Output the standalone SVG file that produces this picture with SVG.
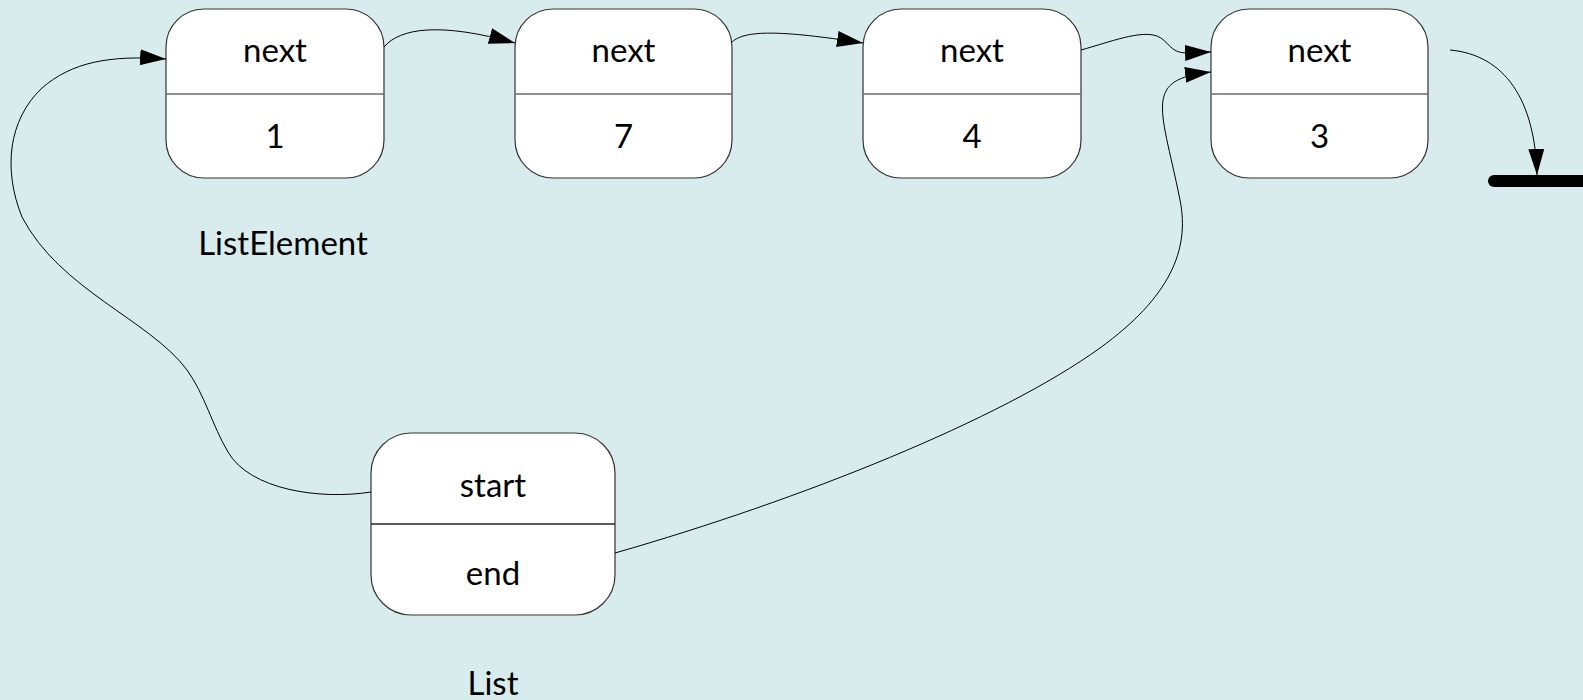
<svg xmlns="http://www.w3.org/2000/svg" width="1583" height="700" viewBox="0 0 1583 700">
<style>
.bg{fill:#d9eced}
.box{fill:#ffffff;stroke:#333333;stroke-width:1.2}
.div{stroke:#6a6a6a;stroke-width:1.6}
.t{font-family:Lato,"Open Sans",sans-serif;font-size:33px;fill:#000;text-anchor:middle}
.c{fill:none;stroke:#000;stroke-width:1}
</style>
<defs>
<marker id="ah" markerUnits="userSpaceOnUse" markerWidth="27" markerHeight="17" refX="26" refY="8" orient="auto">
<path d="M0,0 L26,8 L0,16 z" fill="#000"/>
</marker>
</defs>
<rect class="bg" x="0" y="0" width="1583" height="700"/>
<g id="node1">
<rect class="box" x="166" y="9" width="218" height="169" rx="38" ry="38"/>
<line class="div" x1="166" y1="94" x2="384" y2="94"/>
<text class="t" x="275" y="62">next</text>
<text class="t" x="275" y="148">1</text>
</g>
<g id="node2">
<rect class="box" x="515" y="9" width="217" height="169" rx="38" ry="38"/>
<line class="div" x1="515" y1="94" x2="732" y2="94"/>
<text class="t" x="623.5" y="62">next</text>
<text class="t" x="623.5" y="148">7</text>
</g>
<g id="node3">
<rect class="box" x="863" y="9" width="218" height="169" rx="38" ry="38"/>
<line class="div" x1="863" y1="94" x2="1081" y2="94"/>
<text class="t" x="972" y="62">next</text>
<text class="t" x="972" y="148">4</text>
</g>
<g id="node4">
<rect class="box" x="1211" y="9" width="217" height="169" rx="38" ry="38"/>
<line class="div" x1="1211" y1="94" x2="1428" y2="94"/>
<text class="t" x="1319.5" y="62">next</text>
<text class="t" x="1319.5" y="148">3</text>
</g>
<g id="label-listelement">
<text class="t" x="283" y="255">ListElement</text>
</g>
<g id="list">
<rect class="box" x="371" y="433" width="244" height="182" rx="40" ry="40"/>
<line x1="371" y1="524" x2="615" y2="524" stroke="#222" stroke-width="1.4"/>
<text class="t" x="493" y="497">start</text>
<text class="t" x="493" y="585">end</text>
</g>
<g id="label-list">
<text class="t" x="493" y="695">List</text>
</g>
<g id="null">
<line x1="1494" y1="181" x2="1600" y2="181" stroke="#000" stroke-width="12" stroke-linecap="round"/>
</g>
<g id="connectors">
<path class="c" marker-end="url(#ah)" d="M384,47 C400,28 440,22 515,43"/>
<path class="c" marker-end="url(#ah)" d="M732,42 C745,30 780,30 863,43"/>
<path class="c" marker-end="url(#ah)" d="M1081,50 C1110,42 1140,30 1157,36 C1168,40 1170,53 1186,53 L1211,52"/>
<path class="c" marker-end="url(#ah)" d="M1450,50 C1505,55 1535,100 1537,175"/>
<path class="c" marker-end="url(#ah)" d="M371,492 C320,500 250,490 228,452 C212,425 205,395 187,370 C150,320 60,290 22,217 C3,170 8,120 42,88 C72,62 110,55 166,59"/>
<path class="c" marker-end="url(#ah)" d="M615,553 C800,500 1000,420 1100,348 C1170,297 1190,250 1180,200 C1170,150 1160,120 1163,100 C1166,85 1175,76 1211,72"/>
</g>
</svg>
